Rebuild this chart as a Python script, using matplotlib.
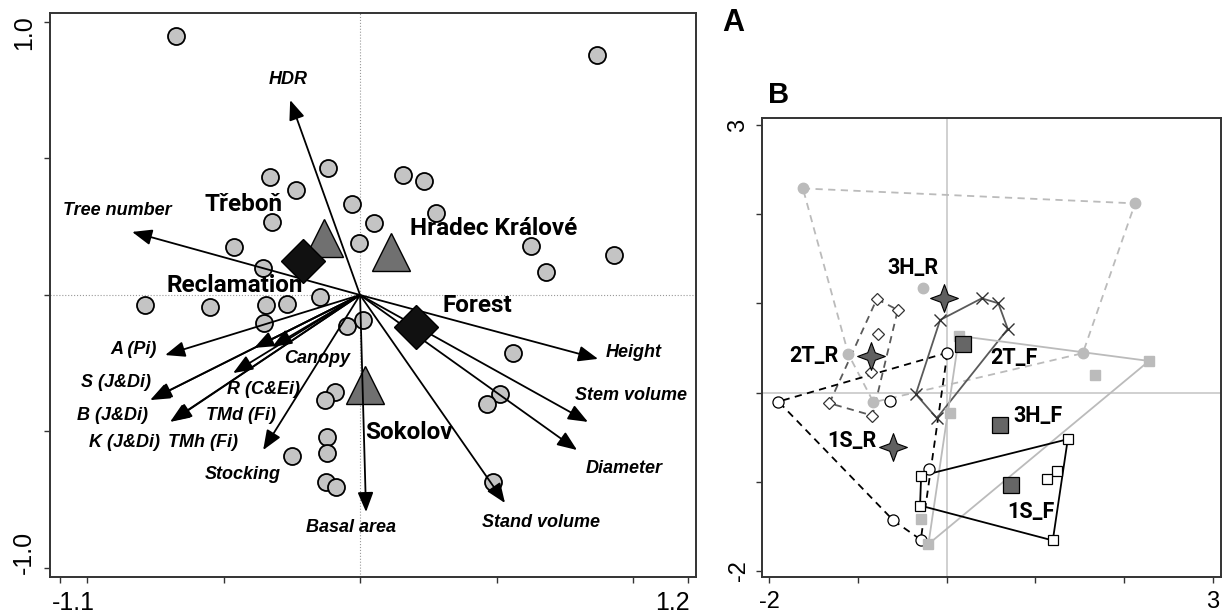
import numpy as np
import matplotlib
matplotlib.use("Agg")
import matplotlib.pyplot as plt
from matplotlib import font_manager
from matplotlib.path import Path
from matplotlib.transforms import ScaledTranslation

# ---------------- panel A: RDA biplot ----------------
plot_x = [-0.674, 0.868, -0.117, -0.330, 0.158, 0.234, -0.234, -0.029, 0.278,
          -0.322, 0.051, -0.462, -0.004, 0.626, 0.930, 0.681, -0.355, -0.147,
          -0.788, -0.549, -0.344, -0.267, -0.352, -0.048, 0.011, 0.561, -0.092,
          -0.128, 0.513, 0.465, -0.121, -0.121, -0.249, -0.125, -0.088, 0.487]
plot_y = [0.949, 0.879, 0.465, 0.432, 0.440, 0.418, 0.385, 0.333, 0.300,
          0.267, 0.264, 0.176, 0.190, 0.179, 0.147, 0.084, 0.099, -0.007,
          -0.037, -0.044, -0.037, -0.033, -0.103, -0.114, -0.092, -0.212, -0.355,
          -0.385, -0.363, -0.399, -0.520, -0.579, -0.590, -0.685, -0.703, -0.685]

site_names = ["Třeboň", "Hradec Králové", "Sokolov"]
site_x = [-0.132, 0.114, 0.018]
site_y = [0.209, 0.158, -0.330]

type_names = ["Reclamation", "Forest"]
type_x = [-0.209, 0.205]
type_y = [0.125, -0.117]

var_names = ["HDR", "Tree number", "A (Pi)", "S (J&Di)", "B (J&Di)", "K (J&Di)",
             "TMh (Fi)", "TMd (Fi)", "R (C&Ei)", "Canopy", "Stocking",
             "Basal area", "Stand volume", "Diameter", "Stem volume", "Height"]
var_x = [-0.256, -0.835, -0.714, -0.769, -0.762, -0.696, -0.689, -0.465,
         -0.388, -0.322, -0.355, 0.022, 0.531, 0.795, 0.835, 0.872]
var_y = [0.714, 0.231, -0.220, -0.385, -0.381, -0.465, -0.462, -0.286,
         -0.194, -0.190, -0.568, -0.795, -0.762, -0.568, -0.465, -0.234]

# where each arrow label sits
var_label_pos = {
    "HDR": (-0.264, 0.788), "Tree number": (-0.890, 0.308),
    "A (Pi)": (-0.828, -0.198), "S (J&Di)": (-0.894, -0.322),
    "B (J&Di)": (-0.908, -0.440), "K (J&Di)": (-0.864, -0.542),
    "TMh (Fi)": (-0.575, -0.542), "TMd (Fi)": (-0.436, -0.440),
    "R (C&Ei)": (-0.355, -0.348), "Canopy": (-0.158, -0.231),
    "Stocking": (-0.429, -0.659), "Basal area": (-0.033, -0.850),
    "Stand volume": (0.663, -0.832), "Diameter": (0.967, -0.634),
    "Stem volume": (0.993, -0.370), "Height": (1.004, -0.212),
}
site_label_pos = {
    "Třeboň": (-0.425, 0.333), "Hradec Králové": (0.491, 0.242),
    "Sokolov": (0.179, -0.502), "Reclamation": (-0.458, 0.033),
    "Forest": (0.429, -0.037),
}

# ---------------- panel B: group envelopes ----------------
group_names = ["3H_R", "2T_R", "1S_R", "2T_F", "3H_F", "1S_F"]
group_x = {
    "3H_R": [-1.620, 2.122, 1.533, -0.825, -1.107, -0.269],
    "2T_R": [-0.787, -0.551, -0.776, -0.851, -1.321, -0.837],
    "1S_R": [0.008, -1.895, -0.637, -0.198, -0.600, -0.292],
    "2T_F": [-0.074, 0.395, 0.582, 0.688, -0.111, -0.348],
    "3H_F": [0.140, 2.279, -0.206, 1.671, 0.038, -0.292],
    "1S_F": [1.364, 1.195, -0.300, -0.288, 1.240, 1.134],
}
group_y = {
    "3H_R": [2.290, 2.122, 0.441, -0.109, 0.429, 1.169],
    "2T_R": [1.049, 0.926, 0.654, 0.234, -0.120, -0.259],
    "1S_R": [0.447, -0.102, -0.091, -0.857, -1.436, -1.652],
    "2T_F": [0.814, 1.057, 1.001, 0.713, -0.288, -0.019],
    "3H_F": [0.635, 0.354, -1.701, 0.197, -0.225, -1.417],
    "1S_F": [-0.524, -1.660, -1.268, -0.935, -0.879, -0.972],
}
# envelope vertices, in drawing order
group_hull = {
    "3H_R": [0, 1, 2, 3, 4], "2T_R": [0, 1, 5, 4], "1S_R": [0, 1, 4, 5],
    "2T_F": [0, 1, 2, 3, 4, 5], "3H_F": [0, 1, 2], "1S_F": [3, 0, 1, 2],
}
group_label_pos = {
    "3H_R": (-0.378, 1.397), "2T_R": (-1.493, 0.410), "1S_R": (-1.065, -0.543),
    "2T_F": (0.759, 0.388), "3H_F": (1.029, -0.262), "1S_F": (0.950, -1.339),
}

LGRAY = "#bbbbbb"
DGRAY = "#5a5a5a"
group_style = {
    "3H_R": dict(color=LGRAY, ls=(0, (4, 3)), marker="o", mfc=LGRAY, mec=LGRAY, ms=7.5),
    "2T_R": dict(color=DGRAY, ls=(0, (4, 3)), marker="D", mfc="white", mec="#333333", ms=6.5, mew=0.9),
    "1S_R": dict(color="black", ls=(0, (4, 3)), marker="o", mfc="white", mec="black", ms=8, mew=0.9),
    "2T_F": dict(color=DGRAY, ls="-", marker="x", mfc="none", mec="#333333", ms=8, mew=1.0),
    "3H_F": dict(color=LGRAY, ls="-", marker="s", mfc=LGRAY, mec=LGRAY, ms=7),
    "1S_F": dict(color="black", ls="-", marker="s", mfc="white", mec="black", ms=7.5, mew=0.9),
}

names = {f.name for f in font_manager.fontManager.ttflist}
if "Liberation Sans Narrow" in names:
    narrow, site_size, group_size = "Liberation Sans Narrow", 19, 17
else:
    narrow, site_size, group_size = "Roboto", 17.5, 15.5
plt.rcParams["font.family"] = ["Liberation Sans", "DejaVu Sans"]

fig = plt.figure(figsize=(12.22, 6.15), dpi=100)
axA = fig.add_axes([0.0409, 0.0618, 0.5287, 0.9171])
axB = fig.add_axes([0.6236, 0.0618, 0.3756, 0.7463])


def shift(label, dx, dy):
    label.set_transform(label.get_transform() + ScaledTranslation(dx / 100, dy / 100, fig.dpi_scale_trans))


# ---- panel A ----
axA.set_xlim(-1.136, 1.231)
axA.set_ylim(-1.033, 1.033)
axA.axhline(0, color="#999999", lw=0.8, ls=":", zorder=1)
axA.axvline(0, color="#999999", lw=0.8, ls=":", zorder=1)

axA.scatter(plot_x, plot_y, s=150, c="#c4c4c4", edgecolors="black", linewidths=1.3, zorder=2)
axA.plot(site_x, site_y, ls="none", marker="^", ms=27, mfc="#707070", mec="black", mew=1.0, zorder=3)

for name, x, y in zip(var_names, var_x, var_y):
    axA.annotate("", xy=(x, y), xytext=(0, 0),
                 arrowprops=dict(arrowstyle="-|>,head_length=0.75,head_width=0.3",
                                 color="black", lw=1.3, mutation_scale=16,
                                 shrinkA=0, shrinkB=0), zorder=4)
    lx, ly = var_label_pos[name]
    axA.text(lx, ly, name, fontsize=13, fontweight="bold", fontstyle="italic",
             ha="center", va="center", zorder=6)

axA.plot(type_x, type_y, ls="none", marker="D", ms=22, mfc="#111111", mec="black", zorder=5)

for name in site_names + type_names:
    lx, ly = site_label_pos[name]
    axA.text(lx, ly, name, fontsize=site_size, fontweight="bold", family=[narrow, "DejaVu Sans"],
             ha="center", va="center", zorder=6)

axA.set_xticks([-1.1, -1, -0.5, 0, 0.5, 1, 1.2])
axA.set_xticklabels(["-1.1", "", "", "", "", "", "1.2"], fontsize=18)
axA.set_yticks([-1, -0.5, 0, 0.5, 1])
axA.set_yticklabels(["-1.0", "", "", "", "1.0"], fontsize=18, rotation=90, va="center")
axA.tick_params(direction="out", length=4, width=1, color="#333333", pad=6)
xl = axA.get_xticklabels()
shift(xl[0], 14, 0)
shift(xl[-1], -15, 0)
yl = axA.get_yticklabels()
shift(yl[0], 0, 16)
shift(yl[-1], 0, -11)

# ---- panel B ----
star = Path([(0, 1), (0.27, 0.27), (1, 0), (0.27, -0.27), (0, -1), (-0.27, -0.27),
             (-1, 0), (-0.27, 0.27), (0, 1)],
            [Path.MOVETO] + [Path.LINETO] * 7 + [Path.CLOSEPOLY])

axB.set_xlim(-2.08, 3.09)
axB.set_ylim(-2.07, 3.08)
axB.axhline(0, color="#c8c8c8", lw=1.2, zorder=1)
axB.axvline(0, color="#c8c8c8", lw=1.2, zorder=1)

for g in group_names:
    gx = np.array(group_x[g])
    gy = np.array(group_y[g])
    st = group_style[g]
    hull = group_hull[g] + [group_hull[g][0]]
    axB.plot(gx[hull], gy[hull], color=st["color"], ls=st["ls"], lw=1.3, zorder=2)
    axB.plot(gx, gy, ls="none", marker=st["marker"], ms=st["ms"], mfc=st["mfc"],
             mec=st["mec"], mew=st.get("mew", 1.0), zorder=3)
    # group centroid
    cx, cy = gx.mean(), gy.mean()
    if g.endswith("_R"):
        axB.plot(cx, cy, ls="none", marker=star, ms=20, mfc="#606060", mec="black", mew=0.8, zorder=4)
    else:
        axB.plot(cx, cy, ls="none", marker="s", ms=11, mfc="#666666", mec="black", mew=0.9, zorder=4)
    lx, ly = group_label_pos[g]
    axB.text(lx, ly, g, fontsize=group_size, fontweight="bold", family=[narrow, "DejaVu Sans"],
             ha="center", va="center", zorder=5)

axB.set_xticks([-2, -1, 0, 1, 2, 3])
axB.set_xticklabels(["-2", "", "", "", "", "3"], fontsize=17)
axB.set_yticks([-2, -1, 0, 1, 2, 3])
axB.set_yticklabels(["-2", "", "", "", "", "3"], fontsize=17, rotation=90, va="center")
axB.tick_params(direction="out", length=4, width=1, color="#333333", pad=6)
axB.tick_params(axis="y", pad=5)

for ax in (axA, axB):
    for sp in ax.spines.values():
        sp.set_color("#333333")
        sp.set_linewidth(1.4)

fig.text(733 / 1222, 1 - 23 / 615, "A", fontsize=22, fontweight="bold", ha="center", va="center")
fig.text(779 / 1222, 1 - 95 / 615, "B", fontsize=21, fontweight="bold", ha="center", va="center")

fig.savefig("out.png", dpi=100)
